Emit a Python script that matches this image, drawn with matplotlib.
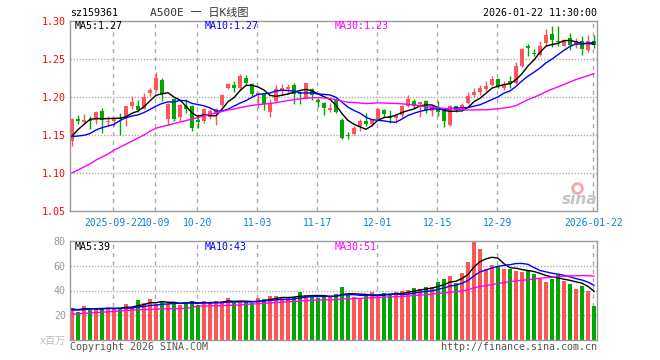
import numpy as np
import pandas as pd
import matplotlib
matplotlib.use('Agg')
import matplotlib.pyplot as plt

plt.rcParams['font.family'] = ['DejaVu Sans Mono', 'Noto Sans CJK SC']

# daily bars, 2025-09-11 .. 2026-01-22 (88 trading days)
opens = [1.142, 1.1715, 1.167, 1.170, 1.170, 1.1815, 1.167, 1.168, 1.172, 1.172,
         1.188, 1.188, 1.1846, 1.205, 1.209, 1.2224, 1.1706, 1.197, 1.174, 1.188,
         1.188, 1.1693, 1.1684, 1.1741, 1.1772, 1.1895, 1.2114, 1.2154, 1.2114, 1.2246,
         1.2167, 1.203, 1.2035, 1.1803, 1.1947, 1.2079, 1.211, 1.2158, 1.2057, 1.1978,
         1.211, 1.196, 1.1917, 1.1825, 1.196, 1.1693, 1.1504, 1.1509, 1.1618, 1.1684,
         1.1649, 1.1715, 1.1825, 1.175, 1.172, 1.1759, 1.188, 1.1947, 1.1904, 1.1947,
         1.1816, 1.1868, 1.1811, 1.1636, 1.1886, 1.1855, 1.1921, 1.2031, 1.2061, 1.2105,
         1.2162, 1.2237, 1.2118, 1.2206, 1.2184, 1.2412, 1.2675, 1.2579, 1.2557, 1.2711,
         1.2833, 1.2732, 1.2675, 1.2776, 1.2689, 1.2732, 1.2623, 1.2741]
closes = [1.1715, 1.168, 1.170, 1.169, 1.180, 1.170, 1.169, 1.1715, 1.1705, 1.188,
          1.194, 1.183, 1.2004, 1.209, 1.225, 1.2035, 1.1904, 1.1715, 1.1895, 1.1846,
          1.1588, 1.1675, 1.1846, 1.1816, 1.1838, 1.2022, 1.2167, 1.2114, 1.2276, 1.218,
          1.2035, 1.2057, 1.1912, 1.1925, 1.211, 1.2114, 1.2136, 1.2035, 1.2035, 1.218,
          1.2022, 1.1934, 1.1851, 1.1851, 1.1803, 1.1465, 1.1491, 1.1596, 1.1684, 1.164,
          1.1706, 1.1846, 1.1772, 1.1724, 1.1759, 1.188, 1.197, 1.188, 1.1934, 1.1816,
          1.188, 1.1798, 1.168, 1.1886, 1.1825, 1.1899, 1.2018, 1.2061, 1.2118, 1.2149,
          1.2237, 1.214, 1.2175, 1.2175, 1.2412, 1.2636, 1.2645, 1.257, 1.2675, 1.282,
          1.2746, 1.2719, 1.2746, 1.2689, 1.2732, 1.2632, 1.2732, 1.2689]
highs = [1.173, 1.176, 1.177, 1.175, 1.1815, 1.186, 1.175, 1.1715, 1.179, 1.188,
         1.201, 1.196, 1.2057, 1.212, 1.233, 1.2255, 1.1925, 1.199, 1.1904, 1.198,
         1.190, 1.177, 1.186, 1.1838, 1.186, 1.2035, 1.219, 1.221, 1.230, 1.2285,
         1.218, 1.2062, 1.2057, 1.198, 1.2154, 1.2167, 1.2167, 1.219, 1.208, 1.218,
         1.2123, 1.199, 1.1934, 1.192, 1.198, 1.1724, 1.154, 1.1618, 1.1715, 1.1794,
         1.1715, 1.186, 1.1846, 1.1825, 1.178, 1.189, 1.2026, 1.1978, 1.1947, 1.196,
         1.190, 1.1943, 1.1833, 1.1899, 1.1886, 1.1921, 1.2061, 1.2118, 1.2162, 1.2206,
         1.2272, 1.225, 1.2206, 1.2272, 1.2456, 1.2645, 1.2702, 1.2636, 1.2732, 1.2895,
         1.2939, 1.2939, 1.2763, 1.2842, 1.2776, 1.2798, 1.2812, 1.282]
lows = [1.136, 1.165, 1.164, 1.1575, 1.164, 1.153, 1.1618, 1.162, 1.1495, 1.162,
        1.184, 1.180, 1.1838, 1.201, 1.208, 1.195, 1.1627, 1.1684, 1.1684, 1.179,
        1.155, 1.1588, 1.1662, 1.1706, 1.1627, 1.188, 1.2105, 1.2066, 1.2105, 1.2154,
        1.2015, 1.186, 1.183, 1.174, 1.1934, 1.2022, 1.2035, 1.1904, 1.1904, 1.197,
        1.1956, 1.1865, 1.1768, 1.1803, 1.1785, 1.1443, 1.1443, 1.1496, 1.1553, 1.1618,
        1.1618, 1.1706, 1.1741, 1.1658, 1.1658, 1.1741, 1.1868, 1.186, 1.1741, 1.1785,
        1.175, 1.1746, 1.1605, 1.1623, 1.1798, 1.1811, 1.1912, 1.1996, 1.2031, 1.2075,
        1.2149, 1.2118, 1.2096, 1.2118, 1.2175, 1.2395, 1.2535, 1.2535, 1.2535, 1.2667,
        1.2658, 1.2667, 1.2667, 1.2614, 1.2645, 1.2558, 1.2592, 1.2645]
# volume, millions
volumes = [25.5, 22.8, 27.4, 24.2, 25.5, 25.5, 26.0, 26.0, 25.5, 29.0,
           26.3, 32.2, 30.0, 33.0, 29.0, 31.4, 29.0, 30.0, 28.2, 30.9,
           31.4, 28.2, 31.4, 29.5, 31.4, 31.4, 34.1, 29.5, 30.9, 30.9,
           30.0, 34.1, 33.0, 35.4, 35.4, 34.1, 33.6, 34.9, 38.7, 36.2,
           36.2, 33.6, 34.9, 35.0, 37.0, 43.0, 36.8, 34.9, 33.6, 36.2,
           38.9, 34.9, 38.1, 36.2, 38.9, 39.5, 40.3, 42.1, 41.1, 43.0,
           43.0, 47.0, 49.4, 51.8, 46.2, 54.2, 63.1, 79.7, 73.3, 57.7,
           60.4, 59.6, 57.2, 57.2, 55.6, 55.0, 55.8, 53.2, 49.7, 47.0,
           49.1, 52.3, 47.5, 45.1, 41.1, 43.5, 39.5, 27.4]

# moving-average values before a full window exists
ma5_lead = [1.1486, 1.157, 1.164, 1.1706]
ma10_lead = [1.1478, 1.1487, 1.1496, 1.152, 1.1566, 1.1596, 1.1618, 1.164, 1.169]
ma30_lead = [1.100, 1.104, 1.108, 1.112, 1.117, 1.121, 1.125, 1.130, 1.134, 1.138,
             1.142, 1.146, 1.150, 1.155, 1.159, 1.161, 1.163, 1.165, 1.167, 1.169,
             1.171, 1.173, 1.175, 1.177, 1.179, 1.181, 1.183, 1.184, 1.186]
vma5_lead = [25.0, 24.5, 25.3, 25.3]
vma10_lead = [24.2, 24.3, 24.5, 25.0, 25.3, 25.5, 25.5, 25.5, 25.6]
vma30_lead = [21.0, 21.2, 21.5, 21.8, 22.1, 22.4, 22.8, 23.1, 23.5, 23.8,
              24.2, 24.4, 24.6, 24.8, 25.0, 25.1, 25.2, 25.3, 25.4, 25.5,
              26.4, 27.4, 27.5, 27.6, 27.7, 27.8, 27.9, 28.1, 28.2]

date_idx = [7, 14, 21, 31, 41, 51, 61, 71, 87]
date_labels = ['2025-09-22', '10-09', '10-20', '11-03', '11-17',
               '12-01', '12-15', '12-29', '2026-01-22']

RED = '#ff5555'
GREEN = '#00a800'
GRID = '#aaaaaa'
W, H = 660, 360


def moving(values, n, lead):
    out = pd.Series(values).rolling(n).mean().to_numpy()
    out[:len(lead)] = lead
    return out


fig = plt.figure(figsize=(6.6, 3.6), dpi=100)


def px_axes(l, t, r, b):
    return fig.add_axes([l / W, 1 - b / H, (r - l) / W, (b - t) / H])


ax = px_axes(70, 21, 597, 211)
axv = px_axes(70, 241, 597, 340)

idx = np.arange(len(closes))
o = np.array(opens)
c = np.array(closes)
up = c >= o
cols = [RED if u else GREEN for u in up]

# price panel
ax.vlines(idx, lows, highs, colors=cols, lw=1, zorder=2)
body = np.maximum(np.abs(c - o), 0.0007)
ax.bar(idx, body, bottom=np.minimum(o, c), width=0.8, color=cols, lw=0, zorder=2)
ax.plot(idx, moving(closes, 5, ma5_lead), color='black', lw=1, zorder=3)
ax.plot(idx, moving(closes, 10, ma10_lead), color='#0000ff', lw=1, zorder=3)
ax.plot(idx, moving(closes, 30, ma30_lead), color='#ff00ff', lw=1, zorder=3)
ax.set_ylim(1.05, 1.30)
ax.set_yticks([1.05, 1.10, 1.15, 1.20, 1.25, 1.30])
ax.set_yticklabels(['1.05', '1.10', '1.15', '1.20', '1.25', '1.30'])
ax.tick_params(axis='y', length=0, labelcolor='red', labelsize=7.2, pad=3)
ax.set_xticks(date_idx)
ax.set_xticklabels(date_labels)
ax.tick_params(axis='x', length=0, labelcolor='#0b7fd4', labelsize=7.0, pad=5)
for y in [1.10, 1.15, 1.20, 1.25]:
    ax.axhline(y, color=GRID, lw=1, ls=(0, (1, 1.2)), zorder=1)

# volume panel
axv.bar(idx, volumes, width=0.82, color=cols, lw=0, zorder=2)
axv.plot(idx, moving(volumes, 5, vma5_lead), color='black', lw=1, zorder=3)
axv.plot(idx, moving(volumes, 10, vma10_lead), color='#0000ff', lw=1, zorder=3)
axv.plot(idx, moving(volumes, 30, vma30_lead), color='#ff00ff', lw=1, zorder=3)
axv.set_ylim(0, 80)
axv.set_yticks([20, 40, 60, 80])
axv.set_yticklabels(['20', '40', '60', '80'])
axv.tick_params(axis='y', length=0, labelcolor='#999999', labelsize=7.2, pad=3)
axv.set_xticks([])
for y in [20, 40, 60]:
    axv.axhline(y, color=GRID, lw=1, ls=(0, (1, 1.2)), zorder=1)

for a in (ax, axv):
    a.set_xlim(-0.33, 87.5)
    for s in a.spines.values():
        s.set_color('#999999')
        s.set_linewidth(1)
    for x in date_idx:
        a.axvline(x - 0.2, color=GRID, lw=1, ls=(0, (3, 3)), zorder=1)


def ftext(x, y, s, size=7.2, **kw):
    fig.text(x / W, 1 - y / H, s, va='center', fontsize=size, **kw)


ftext(70, 13, 'sz159361', color='black')
ftext(150, 13, 'A500E 一 日K线图', size=8, color='#333333')
ftext(597, 13, '2026-01-22 11:30:00', color='black', ha='right')
ftext(75, 26, 'MA5:1.27', color='black')
ftext(205, 26, 'MA10:1.27', color='#0000ff')
ftext(335, 26, 'MA30:1.23', color='#ff00ff')
ftext(75, 247, 'MA5:39', color='black')
ftext(205, 247, 'MA10:43', color='#0000ff')
ftext(335, 247, 'MA30:51', color='#ff00ff')
ftext(66, 341, 'x百万', color='#bbbbbb', ha='right')
ftext(70, 347, 'Copyright 2026 SINA.COM', color='#555555')
ftext(597, 347, 'http://finance.sina.com.cn', color='#555555', ha='right')

# sina watermark
ftext(580, 199, 'sina', size=11, color='#c4c4c4', ha='center',
      fontstyle='italic', fontweight='bold', family='DejaVu Sans')
fig.add_artist(plt.Line2D([577 / W], [1 - 188 / H], marker='o', ms=7, mfc='none',
                          mec='#f2a8a8', mew=2, transform=fig.transFigure))

fig.savefig('out.png', dpi=100)
